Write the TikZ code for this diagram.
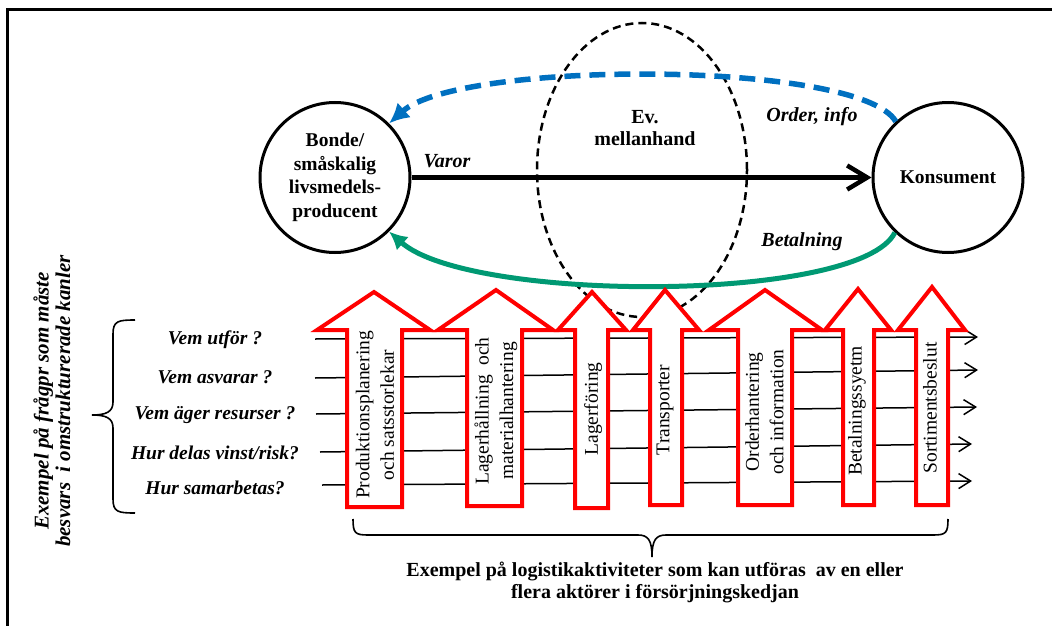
\documentclass[tikz,border=0pt]{standalone}
\usepackage{fontspec}
\setmainfont{Liberation Serif}
\usetikzlibrary{arrows.meta,shapes.geometric}
\definecolor{infoblue}{RGB}{0,112,192}
\definecolor{paygreen}{RGB}{0,153,115}
\definecolor{actred}{RGB}{255,0,0}
\tikzset{
  party/.style={circle, draw, line width=3pt, minimum size=150pt, inner sep=0pt,
    align=center, font=\fontsize{19.5}{23.5}\selectfont\bfseries},
  middleman/.style={ellipse, draw, line width=2.5pt, dash pattern=on 8pt off 5pt,
    minimum width=210pt, minimum height=294pt, inner sep=0pt},
  boldtext/.style={align=center, font=\fontsize{20}{22}\selectfont\bfseries},
  flowlabel/.style={font=\fontsize{20}{23}\selectfont\bfseries\itshape},
  question/.style={font=\fontsize{19.5}{23}\selectfont\bfseries\itshape},
  sidenote/.style={rotate=90, align=center, font=\fontsize{21}{21.5}\selectfont\bfseries\itshape},
  goods/.style={line width=4.5pt, -{Straight Barb[length=20pt,width=24pt]}},
  orderflow/.style={draw=infoblue, line width=5.5pt, dash pattern=on 16pt off 9pt,
    -{Latex[length=20pt,width=20pt]}},
  payflow/.style={draw=paygreen, line width=5pt, -{Latex[length=18pt,width=18pt]}},
  actarrow/.style={draw=actred, fill=white, line width=4pt, line join=miter},
  actlabel/.style={rotate=90, align=center, font=\fontsize{19.5}{24.5}\selectfont},
  row/.style={line width=1.5pt, -{Straight Barb[length=12pt,width=15pt]}},
  bracepath/.style={line width=1.6pt},
}
\begin{document}
\begin{tikzpicture}[x=1pt,y=-1pt]
\useasboundingbox (0,0) rectangle (1052,626);

% open frame: top and left edges
\draw[line width=3pt] (7.5,640) -- (7.5,10) -- (1060,10);

% intermediary region
\node[middleman] (mid) at (642,170) {};
\node[boldtext] (midlabel) at (645,128) {Ev.\\mellanhand};

% the two parties
\node[party] (farmer) at (335,177.5) {Bonde/\\småskalig\\livsmedels-\\producent};
\node[party] (consumer) at (948,177.5) {Konsument};

% flows between parties
\draw[goods] (farmer) -- (consumer);
\draw[orderflow] (consumer.133) .. controls (860,60) and (460,60) .. (farmer.45);
\draw[payflow] (consumer.226) .. controls (860,303) and (470,303) .. (farmer.315);

\node[flowlabel] (varor) at (447,161) {Varor};
\node[flowlabel] (order) at (812,117) {Order, info};
\node[flowlabel] (betal) at (802,242) {Betalning};

% question rows
\coordinate (r1s) at (315,339); \coordinate (r1e) at (978,337);
\coordinate (r2s) at (315,378); \coordinate (r2e) at (978,370);
\coordinate (r3s) at (316,414); \coordinate (r3e) at (977,407);
\coordinate (r4s) at (320,452); \coordinate (r4e) at (972,444);
\coordinate (r5s) at (322,485); \coordinate (r5e) at (972,481);
\foreach \r in {1,...,5} \draw[row] (r\r s) -- (r\r e);

\node[question] (q1) at (215,340) {Vem utför ?};
\node[question] (q2) at (215,377) {Vem asvarar ?};
\node[question] (q3) at (215,415) {Vem äger resurser ?};
\node[question] (q4) at (215,453) {Hur delas vinst/risk?};
\node[question] (q5) at (215,488) {Hur samarbetas?};

% logistics activities as upward block arrows
\foreach \sl/\sr/\hl/\hr/\tx/\ty/\by in {
  347/402/317/430/374/292/507,
  467/522/438/553/496/290/506,
  575/608/558/626/592/292/508,
  650/682/633/699/665/290/505,
  738/792/709/822/765/290/505,
  843/874/825/891/858/289/505,
  916/948/898/965/932/287/505}
  \draw[actarrow] (\sl,\by) -- (\sl,330) -- (\hl,330) -- (\tx,\ty) -- (\hr,330)
    -- (\sr,330) -- (\sr,\by) -- cycle;

\node[actlabel] (a1) at (375,415) {Produktionsplanering\\och satsstorlekar};
\node[actlabel] (a2) at (496,411) {Lagerhållning\ \ och\\materialhantering};
\node[actlabel] (a3) at (593,409) {Lagerföring};
\node[actlabel] (a4) at (665,410) {Transporter};
\node[actlabel] (a5) at (764.5,412) {Orderhantering\\och information};
\node[actlabel] (a6) at (857,411) {Betalningssyetm};
\node[actlabel] (a7) at (930,408) {Sortimentsbeslut};

% brace grouping the questions
\draw[bracepath] (135,320) .. controls (118,320) and (113,321) .. (113,334)
  -- (113,402) .. controls (113,412) and (106,415) .. (92,415)
  .. controls (106,415) and (113,418) .. (113,428)
  -- (113,499) .. controls (113,512) and (118,513) .. (135,513);
\node[sidenote] (side) at (52,401) {Exempel på frågpr som måste\\besvars\ \ i omstrukturerade kanler};

% brace grouping the activities
\draw[bracepath] (353,519) .. controls (353,533) and (355,535) .. (368,535)
  -- (638,535) .. controls (648,535) and (652,540) .. (652,557)
  .. controls (652,540) and (656,535) .. (666,535)
  -- (933,535) .. controls (946,535) and (948,533) .. (948,519);
\node[boldtext] (bottom) at (655,582) {Exempel på logistikaktiviteter som kan utföras\ \ av en eller\\flera aktörer i försörjningskedjan};
\end{tikzpicture}
\end{document}
